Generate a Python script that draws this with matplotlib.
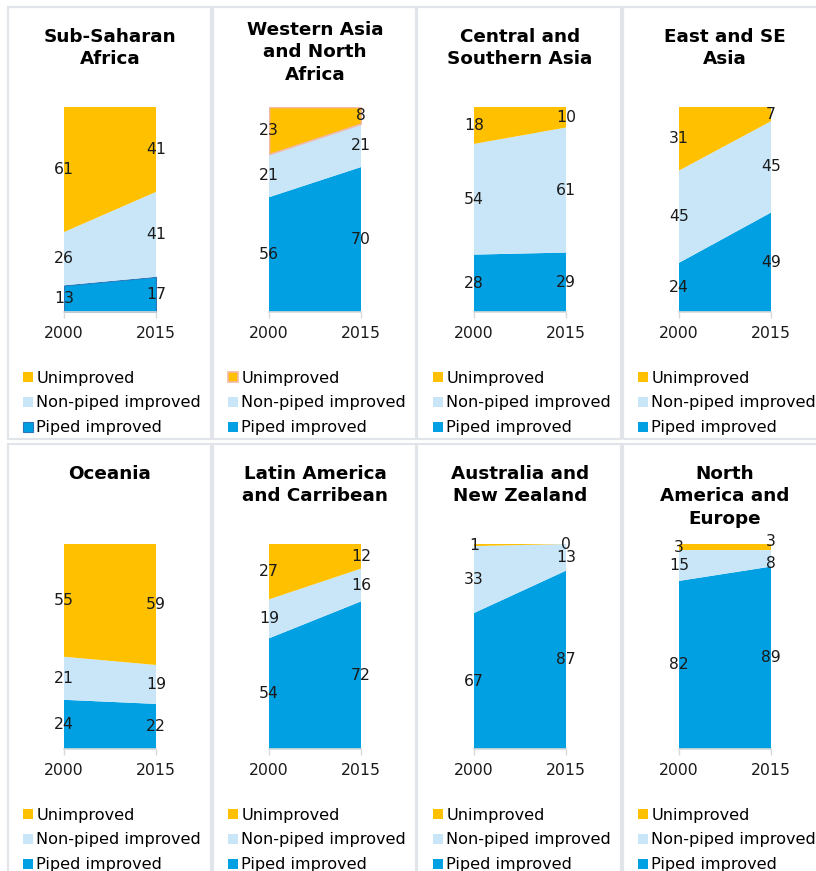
import matplotlib
matplotlib.use("Agg")
import matplotlib.pyplot as plt
from matplotlib.patches import Rectangle

# data (percent of population)
regions = ["Sub-Saharan\nAfrica", "Western Asia\nand North\nAfrica",
           "Central and\nSouthern Asia", "East and SE\nAsia",
           "Oceania", "Latin America\nand Carribean",
           "Australia and\nNew Zealand", "North\nAmerica and\nEurope"]
years = [2000, 2015]
piped_2000 = [13, 56, 28, 24, 24, 54, 67, 82]
piped_2015 = [17, 70, 29, 49, 22, 72, 87, 89]
nonpiped_2000 = [26, 21, 54, 45, 21, 19, 33, 15]
nonpiped_2015 = [41, 21, 61, 45, 19, 16, 13, 8]
unimproved_2000 = [61, 23, 18, 31, 55, 27, 1, 3]
unimproved_2015 = [41, 8, 10, 7, 59, 12, 0, 3]
series_names = ["Piped improved", "Non-piped improved", "Unimproved"]

colors = ["#00A0E2", "#C9E6F9", "#FFC000"]
border = "#E1E4E8"

W, H = 816, 871
fig = plt.figure(figsize=(W / 100, H / 100), dpi=100)
plt.rcParams['font.family'] = ['DejaVu Sans']

def px(v):
    return v * 0.72  # pixels -> points


for i, name in enumerate(regions):
    r, c = divmod(i, 4)
    # panel frame
    fig.patches.append(Rectangle(((7.5 + 205 * c) / W, 1 - (7 + 437 * r + 432) / H),
                                 203 / W, 432 / H, transform=fig.transFigure,
                                 facecolor="none", edgecolor=border, lw=1.6, zorder=-1))

    x0 = 64 + 205 * c
    top = 107 + 437 * r
    ax_h = 205
    ax = fig.add_axes([x0 / W, 1 - (top + ax_h) / H, 92 / W, ax_h / H])
    ax.set_facecolor("none")

    vals = [[piped_2000[i], piped_2015[i]],
            [nonpiped_2000[i], nonpiped_2015[i]],
            [unimproved_2000[i], unimproved_2015[i]]]
    totals = [sum(v[k] for v in vals) for k in range(2)]
    pct = [[v[k] * 100.0 / totals[k] for k in range(2)] for v in vals]

    polys = ax.stackplot(years, pct, colors=colors, labels=series_names, lw=0)
    if i == 0:
        polys[0].set_edgecolor("#2E75B6")
        polys[0].set_linewidth(0.8)
    if i == 1:
        polys[2].set_edgecolor("#F2B8A8")
        polys[2].set_linewidth(1.2)

    # data labels in the middle of each band, nudged apart when they collide
    for k, yr in enumerate(years):
        mids = []
        base = 0
        for s in range(3):
            mids.append(base + pct[s][k] / 2)
            base += pct[s][k]
        shift = [0.0, 0.0, 0.0]
        gap = (mids[2] - mids[1]) * ax_h / 100
        if gap < 12:
            d = (22 - gap) / 2
            shift[2] += d
            shift[1] -= d
        for s in range(3):
            ax.annotate(str(vals[s][k]), (yr, mids[s]), xytext=(0, px(shift[s])),
                        textcoords="offset points", ha="center", va="center",
                        fontsize=px(15.6), color="#1A1A1A", annotation_clip=False)

    ax.set_xlim(2000, 2015)
    ax.set_ylim(0, 100)
    ax.set_xticks(years)
    ax.set_yticks([])
    for sp in ["top", "left", "right"]:
        ax.spines[sp].set_visible(False)
    ax.spines["bottom"].set_color("#D9D9D9")
    ax.spines["bottom"].set_linewidth(1.2)
    ax.tick_params(axis="x", length=4, width=1, color="#D9D9D9", pad=6.4,
                   labelsize=px(15.6), labelcolor="#1A1A1A")

    # title
    nlines = name.count("\n") + 1
    if r == 0:
        ty = 36 if nlines < 3 else 29
    else:
        ty = 473
    fig.text((x0 + 46) / W, 1 - (ty - 8.3) / H, name, ha="center", va="top",
             fontsize=px(18.4), fontweight="bold", color="black", linespacing=1.34)

    handles, labels = ax.get_legend_handles_labels()
    ax.legend(handles[::-1], labels[::-1], loc="upper left",
              bbox_to_anchor=((22.7 + 205 * c) / W, 1 - (370.5 + 437 * r) / H),
              bbox_transform=fig.transFigure, frameon=False, borderaxespad=0,
              borderpad=0, fontsize=px(16.1), handlelength=0.62, handleheight=0.62,
              handletextpad=0.22, labelspacing=0.62)

fig.savefig("out.png", dpi=100)
